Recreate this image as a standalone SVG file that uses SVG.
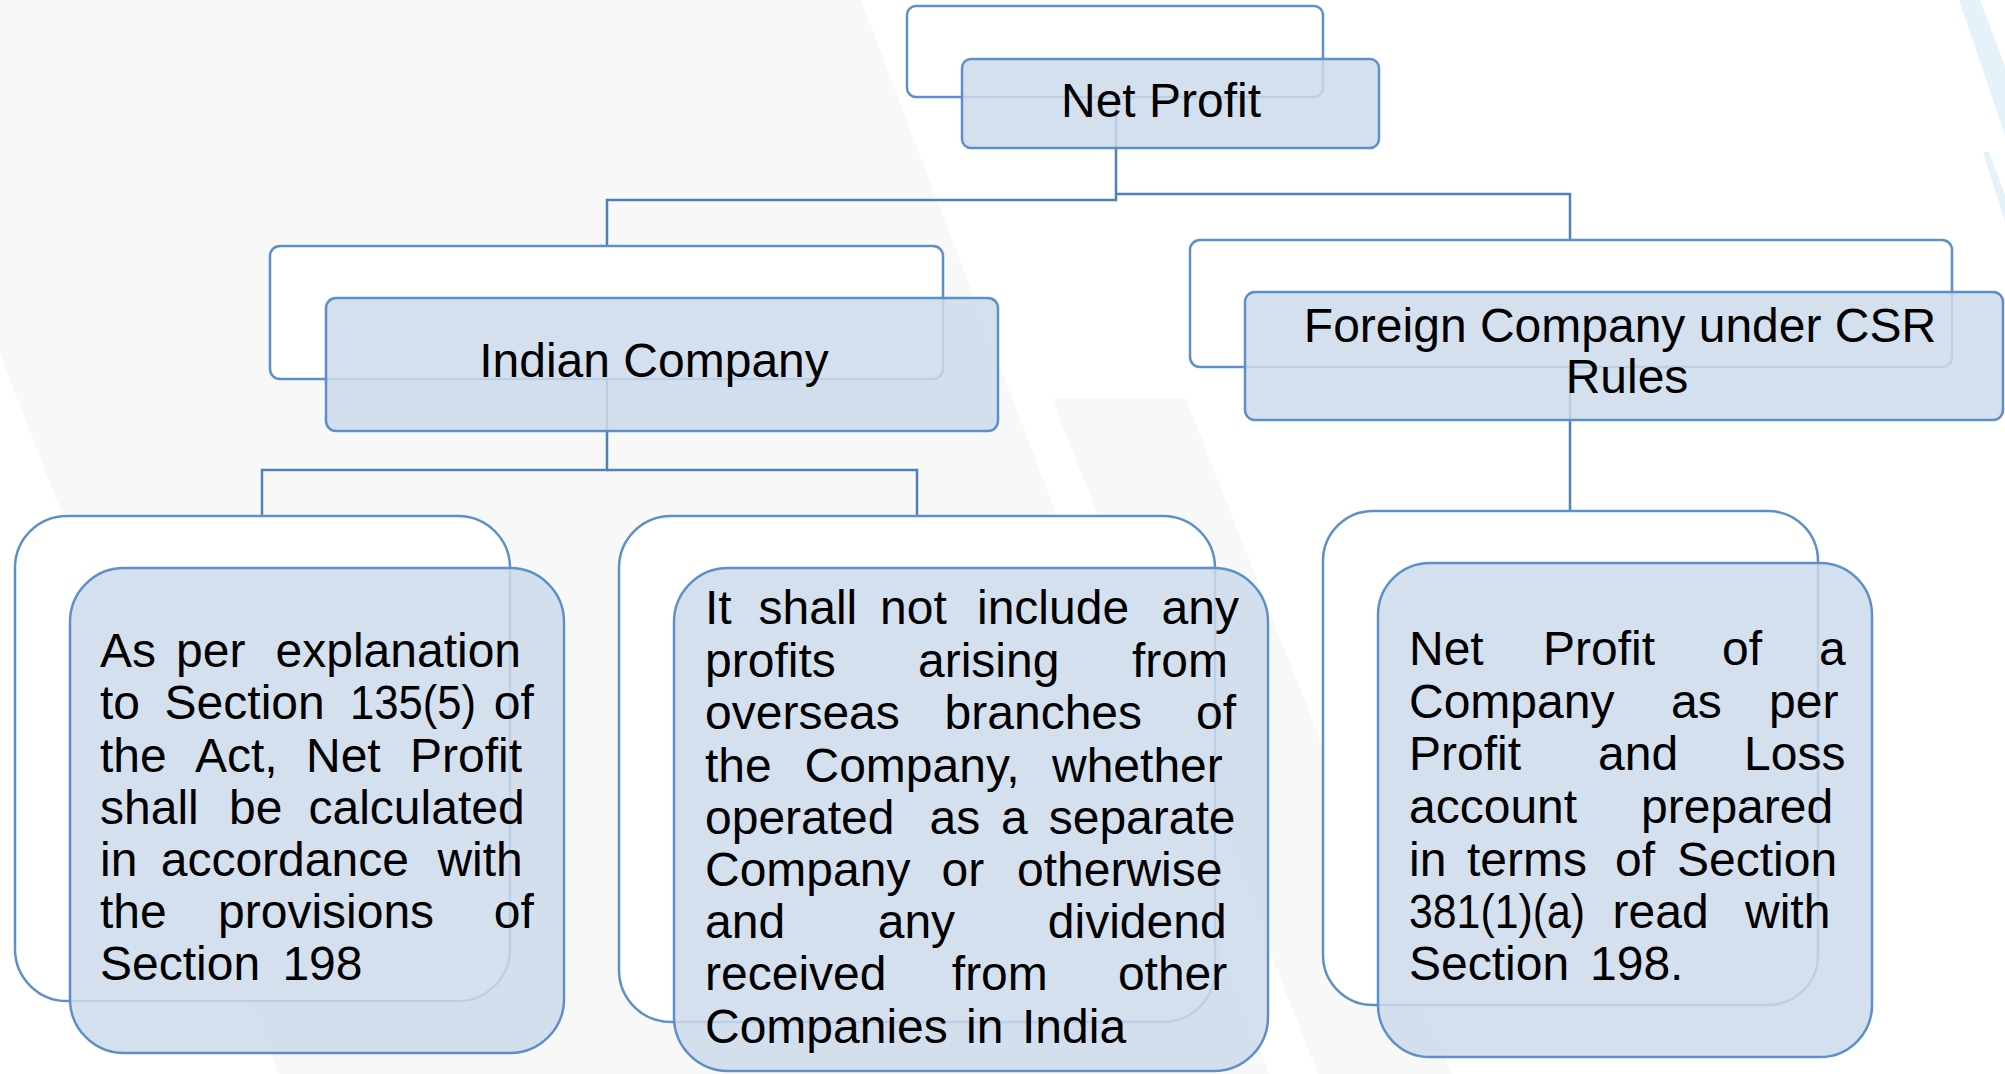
<svg xmlns="http://www.w3.org/2000/svg" width="2005" height="1074" viewBox="0 0 2005 1074">
<style>
.back{fill:#ffffff;stroke:#5d90c8;stroke-width:2.5}
.front{fill:#cedbeb;fill-opacity:0.85;stroke:#5d90c8;stroke-width:2.5}
.conn{fill:none;stroke:#5080b5;stroke-width:2.5}
.t{font-family:"Liberation Sans",Arial,sans-serif;font-size:48px;fill:#000000}
.c{text-anchor:middle}
</style>
<rect x="0" y="0" width="2005" height="1074" fill="#ffffff"/>
<g id="background">
<polygon points="0,0 861,0 1269,1074 279,1074 0,354" fill="#f8f8f8"/>
<polygon points="1052,399 1186,399 1452,1074 1318,1074" fill="#f8f8f8"/>
<polygon points="1959,0 1980,0 2005,66 2005,135" fill="#e4f3f9"/>
<polygon points="1983,152 1989,152 2005,195 2005,222" fill="#e4f3f9"/>
</g>
<g id="connectors">
<polyline class="conn" points="1116,97 1116,200 607,200 607,246"/>
<polyline class="conn" points="1116,194 1570,194 1570,240"/>
<polyline class="conn" points="607,379 607,470 262,470 262,516"/>
<polyline class="conn" points="607,470 917,470 917,516"/>
<polyline class="conn" points="1570,367 1570,511"/>
</g>
<g id="node-net-profit">
<rect class="back" x="907" y="6" width="416" height="91" rx="9"/>
<rect class="front" x="962" y="59" width="417" height="89" rx="9"/>
<text class="t c" x="1161" y="117">Net Profit</text>
</g>
<g id="node-indian-company">
<rect class="back" x="270" y="246" width="673" height="133" rx="10"/>
<rect class="front" x="326" y="298" width="672" height="133" rx="10"/>
<text class="t c" x="654" y="377">Indian Company</text>
</g>
<g id="node-foreign-company">
<rect class="back" x="1190" y="240" width="762" height="127" rx="10"/>
<rect class="front" x="1245" y="292" width="758" height="128" rx="10"/>
<text class="t c" x="1620" y="342">Foreign Company under CSR</text>
<text class="t c" x="1627" y="393">Rules</text>
</g>
<g id="node-explanation">
<rect class="back" x="15" y="516" width="495" height="485" rx="52"/>
<rect class="front" x="70" y="568" width="494" height="485" rx="54"/>
<text class="t">
<tspan x="100" y="667">As</tspan><tspan x="176" y="667">per</tspan><tspan x="275.5" y="667">explanation</tspan>
<tspan x="100" y="719">to</tspan><tspan x="164.6" y="719">Section</tspan><tspan x="350" y="719" textLength="126" lengthAdjust="spacingAndGlyphs">135(5)</tspan><tspan x="493.7" y="719">of</tspan>
<tspan x="100" y="772">the</tspan><tspan x="195" y="772">Act,</tspan><tspan x="306" y="772">Net</tspan><tspan x="410" y="772">Profit</tspan>
<tspan x="100" y="824">shall</tspan><tspan x="229" y="824">be</tspan><tspan x="308.5" y="824">calculated</tspan>
<tspan x="100" y="876">in</tspan><tspan x="160.7" y="876">accordance</tspan><tspan x="437.4" y="876">with</tspan>
<tspan x="100" y="928">the</tspan><tspan x="218" y="928">provisions</tspan><tspan x="493.7" y="928">of</tspan>
<tspan x="100" y="980">Section</tspan><tspan x="282.4" y="980">198</tspan>
</text>
</g>
<g id="node-exclusion">
<rect class="back" x="619" y="516" width="596" height="506" rx="52"/>
<rect class="front" x="674" y="568" width="594" height="503" rx="54"/>
<text class="t">
<tspan x="705" y="624">It</tspan><tspan x="758.5" y="624">shall</tspan><tspan x="880" y="624">not</tspan><tspan x="977" y="624">include</tspan><tspan x="1161.6" y="624">any</tspan>
<tspan x="705" y="677">profits</tspan><tspan x="918" y="677">arising</tspan><tspan x="1132" y="677">from</tspan>
<tspan x="705" y="729">overseas</tspan><tspan x="944.6" y="729">branches</tspan><tspan x="1196" y="729">of</tspan>
<tspan x="705" y="782">the</tspan><tspan x="804.5" y="782">Company,</tspan><tspan x="1052" y="782">whether</tspan>
<tspan x="705" y="834">operated</tspan><tspan x="929.5" y="834">as</tspan><tspan x="1001" y="834">a</tspan><tspan x="1048.7" y="834">separate</tspan>
<tspan x="705" y="886">Company</tspan><tspan x="941.5" y="886">or</tspan><tspan x="1017" y="886">otherwise</tspan>
<tspan x="705" y="938">and</tspan><tspan x="877.7" y="938">any</tspan><tspan x="1047.8" y="938">dividend</tspan>
<tspan x="705" y="990">received</tspan><tspan x="951.8" y="990">from</tspan><tspan x="1117.9" y="990">other</tspan>
<tspan x="705" y="1043">Companies</tspan><tspan x="966" y="1043">in</tspan><tspan x="1022" y="1043">India</tspan>
</text>
</g>
<g id="node-foreign-net-profit">
<rect class="back" x="1323" y="511" width="495" height="494" rx="50"/>
<rect class="front" x="1378" y="563" width="494" height="494" rx="52"/>
<text class="t">
<tspan x="1409" y="665">Net</tspan><tspan x="1543" y="665">Profit</tspan><tspan x="1722" y="665">of</tspan><tspan x="1819" y="665">a</tspan>
<tspan x="1409" y="718">Company</tspan><tspan x="1671" y="718">as</tspan><tspan x="1769" y="718">per</tspan>
<tspan x="1409" y="770">Profit</tspan><tspan x="1598" y="770">and</tspan><tspan x="1744" y="770">Loss</tspan>
<tspan x="1409" y="822.6">account</tspan><tspan x="1641" y="822.6">prepared</tspan>
<tspan x="1409" y="875.5">in</tspan><tspan x="1467" y="875.5">terms</tspan><tspan x="1615" y="875.5">of</tspan><tspan x="1677" y="875.5">Section</tspan>
<tspan x="1409" y="927.6" textLength="176" lengthAdjust="spacingAndGlyphs">381(1)(a)</tspan><tspan x="1612.5" y="927.6">read</tspan><tspan x="1745" y="927.6">with</tspan>
<tspan x="1409" y="980">Section</tspan><tspan x="1590" y="980">198.</tspan>
</text>
</g>
</svg>
